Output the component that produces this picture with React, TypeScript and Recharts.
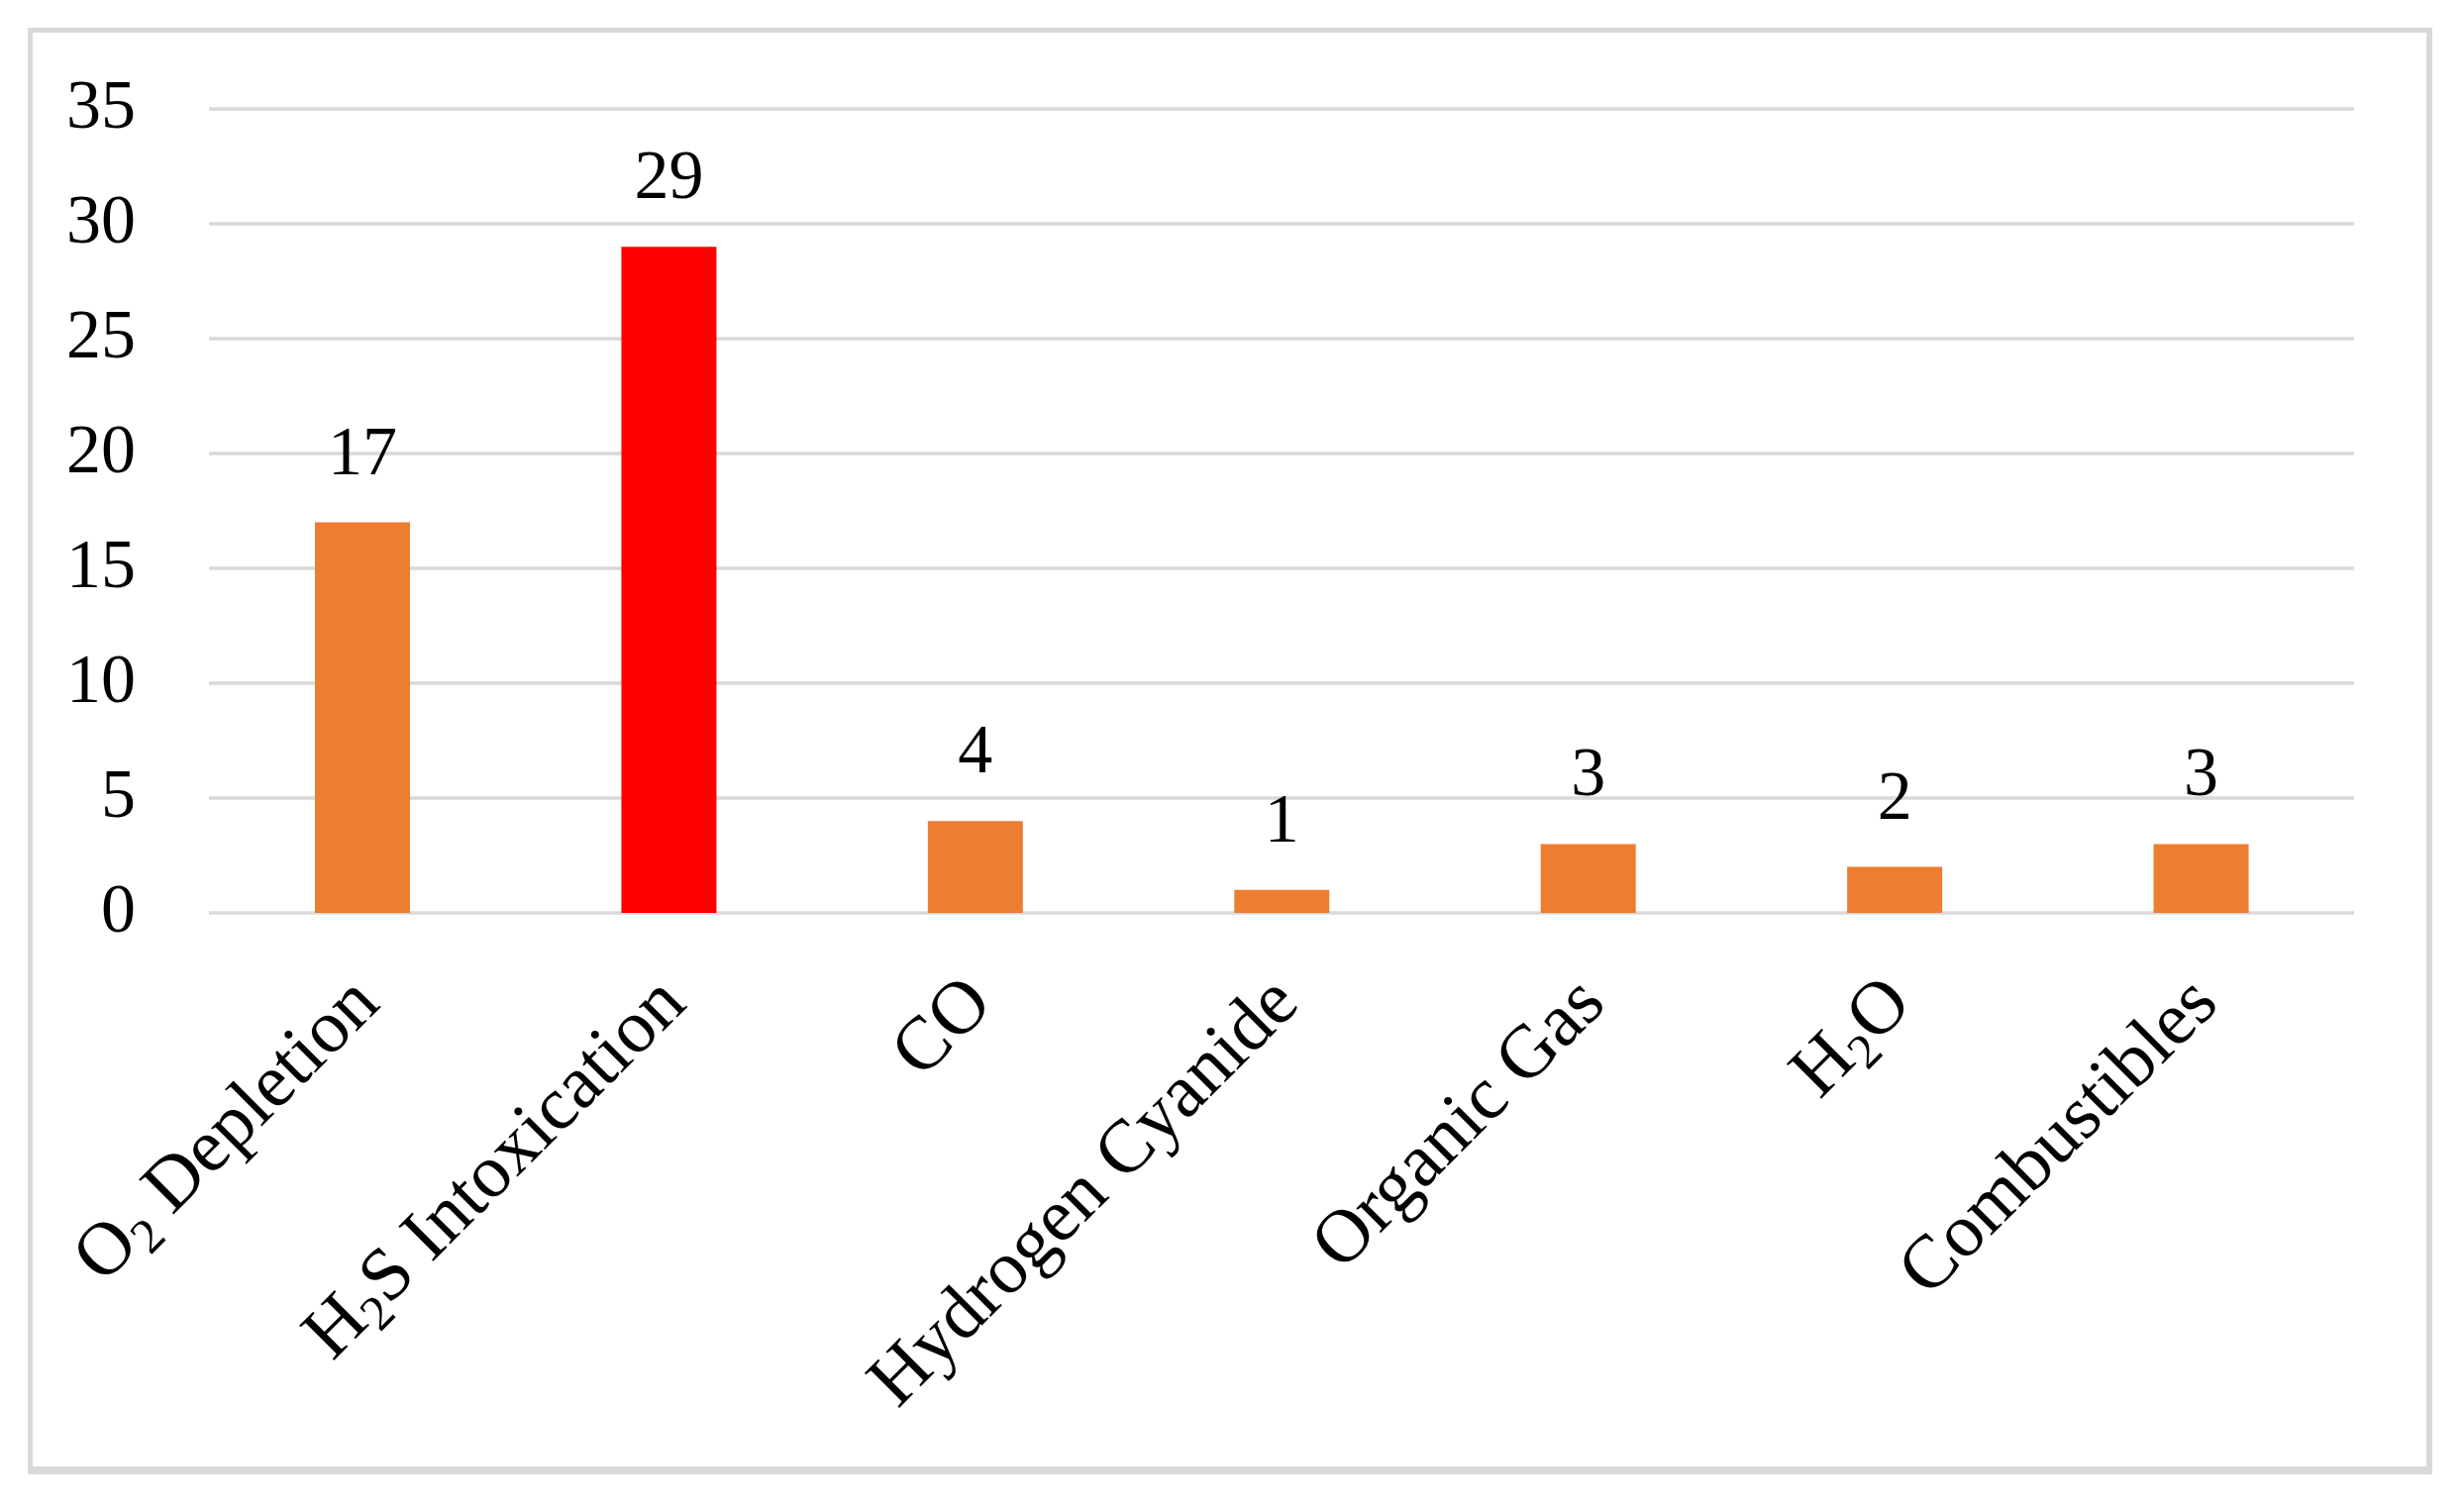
import React from 'react';
import { BarChart, Bar, XAxis, YAxis, CartesianGrid, LabelList, Cell } from 'recharts';

const categories = [
    'O₂ Depletion',
    'H₂S Intoxication',
    'CO',
    'Hydrogen Cyanide',
    'Organic Gas',
    'H₂O',
    'Combustibles',
];
const counts = [17, 29, 4, 1, 3, 2, 3];
const yTicks = [0, 5, 10, 15, 20, 25, 30, 35];
const highlighted = 'H₂S Intoxication';

const data = categories.map((name, i) => ({ name, value: counts[i] }));

const FONT = '"Liberation Serif", "Times New Roman", serif';
const FONT_SIZE = 70;
const CAT_FONT_SIZE = 76;
const ORANGE = '#ED7D31';
const RED = '#FF0000';
const GRID = '#D9D9D9';

// splits "H₂S" style labels so the ₂ can be drawn as a real subscript
function CategoryTick({ x, y, payload }: any) {
    const parts = String(payload.value).split(/(₂)/).filter((p) => p !== '');
    let shifted = false;
    return (
        <g transform={`translate(${x + 20},${y + 94}) rotate(-45)`}>
            <text textAnchor="end" fontFamily={FONT} fontSize={CAT_FONT_SIZE} fill="#000">
                {parts.map((p, i) => {
                    if (p === '₂') {
                        shifted = true;
                        return (
                            <tspan key={i} dy={13} fontSize={50}>
                                2
                            </tspan>
                        );
                    }
                    const dy = shifted ? -13 : 0;
                    shifted = false;
                    return (
                        <tspan key={i} dy={dy}>
                            {p}
                        </tspan>
                    );
                })}
            </text>
        </g>
    );
}

export default function App() {
    return (
        <div style={{ position: 'absolute', left: 0, top: 0, width: 2488, height: 1522, background: '#fff' }}>
            {/* outer frame */}
            <div
                style={{
                    position: 'absolute',
                    left: 28,
                    top: 28,
                    width: 2428,
                    height: 1461,
                    boxSizing: 'border-box',
                    borderStyle: 'solid',
                    borderColor: GRID,
                    borderWidth: '5px 6px 8px 5px',
                }}
            />
            <div style={{ position: 'absolute', left: 0, top: 0 }}>
                <BarChart width={2488} height={1522} data={data} margin={{ top: 110, right: 111, left: 0, bottom: 0 }}>
                    <CartesianGrid horizontal vertical={false} stroke={GRID} strokeWidth={3.5} />
                    <XAxis
                        dataKey="name"
                        height={600}
                        interval={0}
                        axisLine={false}
                        tickLine={false}
                        tickSize={0}
                        tickMargin={0}
                        tick={(props: any) => <CategoryTick {...props} />}
                    />
                    <YAxis
                        width={211}
                        domain={[0, 35]}
                        ticks={yTicks}
                        axisLine={false}
                        tickLine={false}
                        tickSize={0}
                        tickMargin={74}
                        tick={{ fill: '#000', fontSize: FONT_SIZE, fontFamily: FONT, dy: -6 }}
                    />
                    <Bar dataKey="value" barSize={96} isAnimationActive={false}>
                        {data.map((d) => (
                            <Cell key={d.name} fill={d.name === highlighted ? RED : ORANGE} />
                        ))}
                        <LabelList
                            dataKey="value"
                            position="top"
                            offset={49}
                            fill="#000"
                            fontSize={FONT_SIZE}
                            fontFamily={FONT}
                        />
                    </Bar>
                </BarChart>
            </div>
        </div>
    );
}
